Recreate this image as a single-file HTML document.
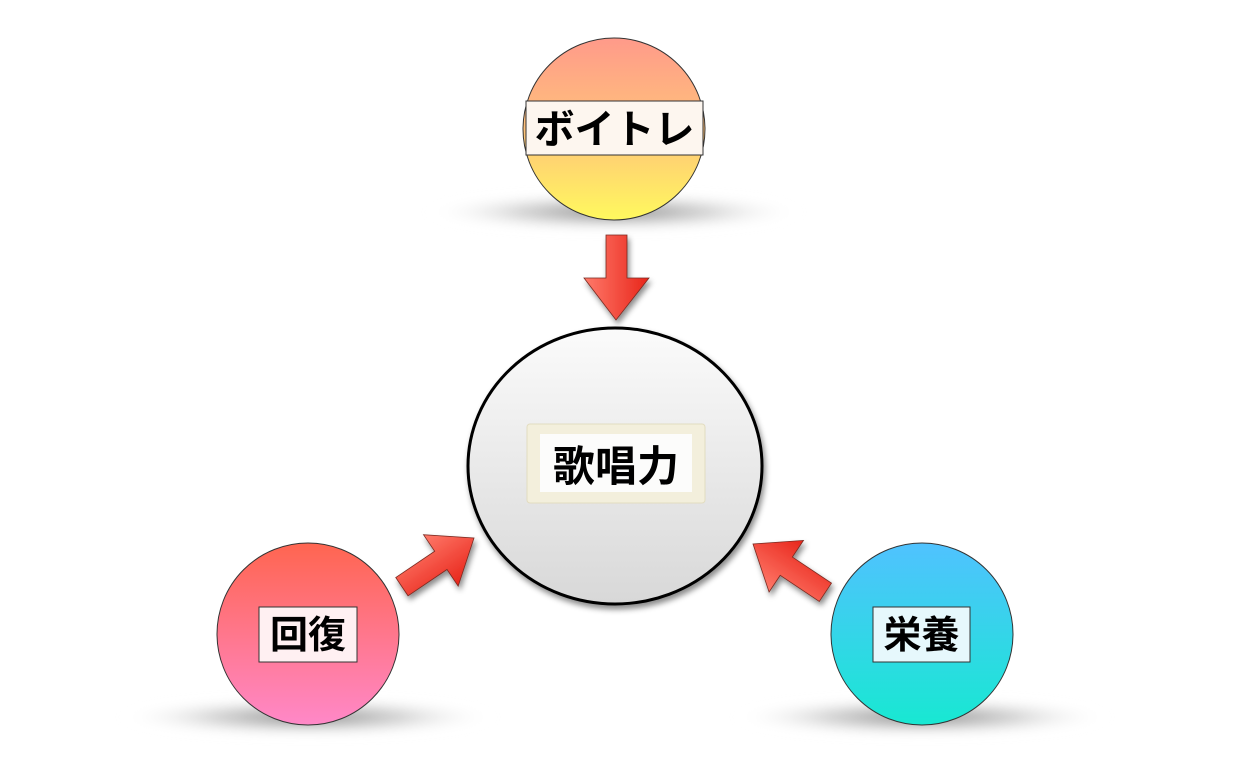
<!DOCTYPE html>
<html><head><meta charset="utf-8"><style>
html,body{margin:0;padding:0;background:#fff;}
svg{display:block;}
text{font-family:"Liberation Sans","Noto Sans CJK JP",sans-serif;font-weight:bold;fill:#000;}
</style></head><body>
<svg width="1250" height="764" viewBox="0 0 1250 764" xmlns="http://www.w3.org/2000/svg">
<defs>
<linearGradient id="gTop" x1="0" y1="0" x2="0" y2="1"><stop offset="0" stop-color="#ff9a8a"/><stop offset="0.5" stop-color="#ffc27a"/><stop offset="1" stop-color="#fff95e"/></linearGradient>
<linearGradient id="gLeft" x1="0" y1="0" x2="0" y2="1"><stop offset="0" stop-color="#ff6550"/><stop offset="1" stop-color="#ff88c8"/></linearGradient>
<linearGradient id="gRight" x1="0" y1="0" x2="0" y2="1"><stop offset="0" stop-color="#50c2ff"/><stop offset="1" stop-color="#18e8d2"/></linearGradient>
<linearGradient id="gCen" x1="0" y1="0" x2="0" y2="1"><stop offset="0" stop-color="#fbfbfb"/><stop offset="1" stop-color="#d8d8d8"/></linearGradient>
<linearGradient id="gArr" x1="0" y1="0" x2="0" y2="1"><stop offset="0" stop-color="#ff7a6a"/><stop offset="1" stop-color="#e8251a"/></linearGradient>
<linearGradient id="gArrD" x1="0" y1="0" x2="1" y2="0"><stop offset="0" stop-color="#ff7a6a"/><stop offset="1" stop-color="#e8251a"/></linearGradient>
<radialGradient id="gSh" cx="0.5" cy="0.5" r="0.5"><stop offset="0" stop-color="#777" stop-opacity="0.9"/><stop offset="0.5" stop-color="#aaa" stop-opacity="0.5"/><stop offset="1" stop-color="#fff" stop-opacity="0"/></radialGradient>
<filter id="blur" x="-100%" y="-300%" width="300%" height="700%"><feGaussianBlur stdDeviation="5"/></filter>
<filter id="ds" x="-30%" y="-30%" width="160%" height="160%"><feDropShadow dx="2" dy="4" stdDeviation="3" flood-color="#000" flood-opacity="0.45"/></filter>
</defs>
<!-- shadows -->
<ellipse cx="614" cy="212" rx="190" ry="20" fill="url(#gSh)" filter="url(#blur)"/>
<ellipse cx="308" cy="717" rx="190" ry="20" fill="url(#gSh)" filter="url(#blur)"/>
<ellipse cx="922" cy="717" rx="190" ry="20" fill="url(#gSh)" filter="url(#blur)"/>

<!-- top -->
<circle cx="614" cy="129" r="91" fill="url(#gTop)" stroke="#333" stroke-width="1"/>
<rect x="526" y="101" width="177" height="54" fill="#fdf6ef" stroke="#333" stroke-width="1"/>
<text x="614.5" y="143" font-size="40" text-anchor="middle">ボイトレ</text>

<!-- center -->
<ellipse cx="615" cy="466" rx="147" ry="138" fill="url(#gCen)" stroke="#000" stroke-width="3" filter="url(#ds)"/>
<rect x="527" y="424" width="178" height="79" rx="3" fill="#f3efdc" stroke="#e2dcc0" stroke-width="1"/>
<rect x="540" y="434" width="152" height="58" fill="#fcfcfb"/>
<text x="616" y="481" font-size="42" text-anchor="middle">歌唱力</text>

<!-- left -->
<circle cx="308" cy="634" r="91" fill="url(#gLeft)" stroke="#333" stroke-width="1"/>
<rect x="259" y="607" width="98" height="55" fill="#fff0f2" stroke="#333" stroke-width="1"/>
<text x="308" y="648" font-size="38" text-anchor="middle">回復</text>

<!-- right -->
<circle cx="922" cy="634" r="91" fill="url(#gRight)" stroke="#333" stroke-width="1"/>
<rect x="873" y="607" width="97" height="55" fill="#e6f8fc" stroke="#333" stroke-width="1"/>
<text x="921.5" y="648" font-size="38" text-anchor="middle">栄養</text>

<!-- arrows -->
<g filter="url(#ds)">
<polygon points="606,235 627,235 627,278 649,278 616,320 584,278 606,278" fill="url(#gArrD)" stroke="#7a2a20" stroke-width="0.8"/>
<g transform="translate(474,538) rotate(-34)">
<polygon points="-87,-11 -40,-11 -40,-31 0,0 -40,31 -40,11 -87,11" fill="url(#gArr)" stroke="#7a2a20" stroke-width="0.8"/>
</g>
<g transform="translate(753,544) rotate(213.7)">
<polygon points="-87,-11 -40,-11 -40,-31 0,0 -40,31 -40,11 -87,11" fill="url(#gArr)" stroke="#7a2a20" stroke-width="0.8"/>
</g>
</g>
</svg>
</body></html>
